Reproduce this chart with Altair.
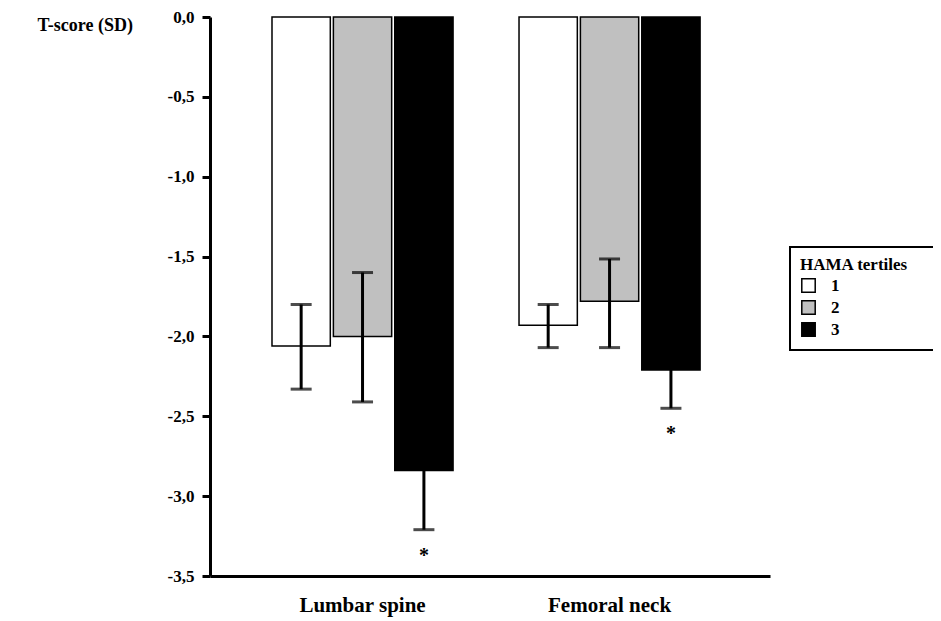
import altair as alt
import pandas as pd

# ---- data ----
sites = ["Lumbar spine", "Lumbar spine", "Lumbar spine",
         "Femoral neck", "Femoral neck", "Femoral neck"]
tertiles = ["1", "2", "3", "1", "2", "3"]
means = [-2.06, -2.00, -2.84, -1.93, -1.78, -2.21]
lows = [-2.33, -2.41, -3.21, -2.07, -2.07, -2.45]
highs = [-1.80, -1.60, -2.47, -1.80, -1.515, -1.97]
significant = [False, False, True, False, False, True]

site_order = ["Lumbar spine", "Femoral neck"]
tertile_order = ["1", "2", "3"]
tertile_colors = ["#ffffff", "#c0c0c0", "#000000"]
y_ticks = [0.0, -0.5, -1.0, -1.5, -2.0, -2.5, -3.0, -3.5]
legend_title = "HAMA tertiles" + "\u2800" * 2

df = pd.DataFrame({
    "site": sites, "tertile": tertiles, "mean": means,
    "low": lows, "high": highs, "sig": significant,
})

FONT = "Liberation Serif"

x = alt.X("site:N", sort=site_order,
          scale=alt.Scale(paddingInner=0.267, paddingOuter=0.267, align=0.47),
          axis=alt.Axis(title=None, ticks=False, domainWidth=3, domainColor="black",
                        labelFont=FONT, labelFontSize=21, labelFontWeight="bold",
                        labelColor="black", labelPadding=18, labelAngle=0))
xo = alt.XOffset("tertile:N", sort=tertile_order,
                 scale=alt.Scale(paddingInner=0.05))
yscale = alt.Scale(domain=[-3.5, 0], nice=False, zero=False)

base = alt.Chart(df)

bars = base.mark_bar(stroke="black", strokeWidth=1.5).encode(
    x=x, xOffset=xo,
    y=alt.Y("mean:Q", scale=yscale,
            axis=alt.Axis(title="T-score (SD)", values=y_ticks, grid=False,
                          labelExpr="replace(replace(format(datum.value, '.1f'), '.', ','), '\u2212', '-')",
                          domainWidth=3, domainColor="black", tickWidth=3, tickSize=8,
                          tickColor="black", labelPadding=8,
                          labelFont=FONT, labelFontSize=17, labelFontWeight="bold",
                          labelColor="black",
                          titleAngle=0, titleX=-173, titleY=8, titleAlign="left",
                          titleBaseline="middle", titleFont=FONT, titleFontSize=18,
                          titleFontWeight="bold", titleColor="black")),
    y2=alt.Y2(datum=0),
    fill=alt.Fill("tertile:N", sort=tertile_order,
                  scale=alt.Scale(domain=tertile_order, range=tertile_colors),
                  legend=alt.Legend(title=legend_title,
                                    orient="none", legendX=580, legendY=230)),
)

err = base.mark_rule(color="black", strokeWidth=3).encode(
    x=x, xOffset=xo, y=alt.Y("low:Q", scale=yscale), y2="high:Q")

cap_lo = base.mark_tick(color="black", size=21, thickness=3).encode(
    x=x, xOffset=xo, y=alt.Y("low:Q", scale=yscale))
cap_hi = base.mark_tick(color="black", size=21, thickness=3).encode(
    x=x, xOffset=xo, y=alt.Y("high:Q", scale=yscale))

stars = base.transform_filter("datum.sig").mark_text(
    text="*", font=FONT, fontSize=20, fontWeight="bold", color="black",
    baseline="alphabetic", dy=32).encode(
    x=x, xOffset=xo, y=alt.Y("low:Q", scale=yscale))

chart = alt.layer(bars, err, cap_lo, cap_hi, stars).properties(
    width=560, height=559,
    autosize=alt.AutoSizeParams(type="none"),
    padding={"left": 202, "top": 9, "right": 163, "bottom": 44},
).configure_view(stroke=None).configure_legend(
    strokeColor="black", strokeWidth=2, padding=10, fillColor="white",
    symbolType="square", symbolSize=180, symbolStrokeColor="black",
    symbolStrokeWidth=1.5, labelFont=FONT, labelFontSize=17, labelFontWeight="bold",
    labelColor="black", titleFont=FONT, titleFontSize=17, titleFontWeight="bold",
    titleColor="black", rowPadding=1, titlePadding=3, labelOffset=14,
)

chart.save("out.html", embed_options={"renderer": "svg", "actions": False})
